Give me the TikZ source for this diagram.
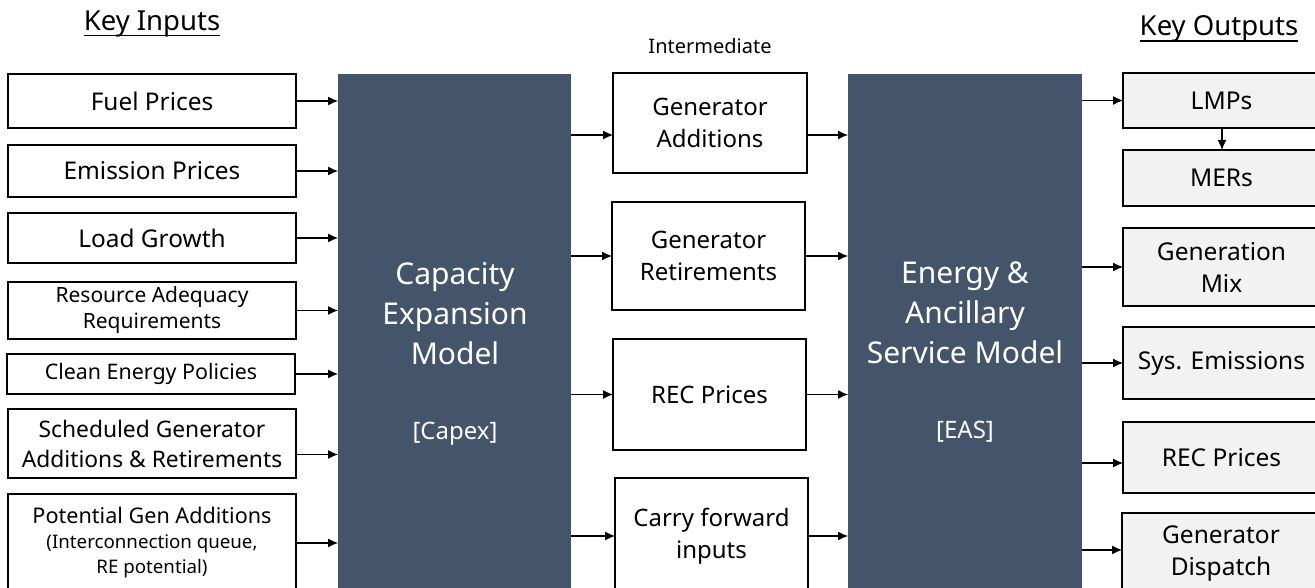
\documentclass[tikz,border=0pt]{standalone}
\usepackage{fontspec}
\setmainfont{Noto Sans}
\usetikzlibrary{arrows.meta}
\definecolor{slate}{HTML}{44546A}
\definecolor{outfill}{HTML}{F2F2F2}
\newcommand{\fsz}[2]{\fontsize{#1}{#2}\selectfont}
\tikzset{
  box/.style={draw=black, line width=1.4pt, inner sep=0pt, outer sep=0pt,
    anchor=north west, align=center},
  inbox/.style={box, fill=white},
  midbox/.style={box, fill=white, font=\fsz{24}{32}},
  outbox/.style={box, fill=outfill, font=\fsz{24.5}{32}},
  model/.style={fill=slate, draw=none, inner sep=0pt, outer sep=0pt, anchor=north west},
  modeltext/.style={text=white, align=center, inner sep=0pt, anchor=north, font=\fsz{30}{40}},
  heading/.style={inner sep=0pt, anchor=base, font=\fsz{27.5}{30}},
  uline/.style={line width=1.3pt},
  arr/.style={-{Latex[length=10pt,width=9pt]}, line width=1.1pt, draw=black},
}
\begin{document}
\begin{tikzpicture}[x=1pt,y=-1pt]
\useasboundingbox (0,0) rectangle (1315,588);

% headings
\node[heading] (kin) at (152,31) {Key Inputs};
\node[heading] (kout) at (1219,36) {Key Outputs};
\draw[uline] ([yshift=-4.5pt]kin.base west) -- ([yshift=-4.5pt]kin.base east);
\draw[uline] ([yshift=-5pt]kout.base west) -- ([yshift=-5pt]kout.base east);
\node[inner sep=0pt, font=\fsz{20}{22}] (inter) at (710,46) {Intermediate};

% model blocks
\node[model, minimum width=233, minimum height=560] (capex) at (338,74) {};
\node[model, minimum width=234, minimum height=560] (eas) at (848,74) {};
\node[modeltext] (capexlab) at (455,262)
  {Capacity\\Expansion\\Model\\[35pt]{\fsz{24}{26}[Capex]}};
\node[modeltext] (easlab) at (965,262)
  {Energy \&\\Ancillary\\Service Model\\[35pt]{\fsz{24}{26}[EAS]}};

% key inputs
\node[inbox, minimum width=288, minimum height=54, font=\fsz{24.4}{30}] (fuel) at (8,74) {Fuel Prices};
\node[inbox, minimum width=288, minimum height=52, font=\fsz{24.4}{30}] (emis) at (8,145) {Emission Prices};
\node[inbox, minimum width=288, minimum height=50, font=\fsz{24.4}{30}] (load) at (8,213) {Load Growth};
\node[inbox, minimum width=288, minimum height=57, font=\fsz{21}{26}] (resad) at (8,282) {Resource Adequacy\\Requirements};
\node[inbox, minimum width=288, minimum height=40, font=\fsz{21.4}{26}] (clean) at (7,354) {Clean Energy Policies};
\node[inbox, minimum width=288, minimum height=69, font=\fsz{22.8}{30}] (sched) at (8,409) {Scheduled Generator\\Additions \& Retirements};
\node[inbox, minimum width=288, minimum height=98, font=\fsz{21.6}{25}] (potgen) at (8,494)
  {Potential Gen Additions\\{\fsz{18.7}{25}(Interconnection queue,}\\{\fsz{18.7}{25}RE potential)}};

% intermediate results
\node[midbox, minimum width=194, minimum height=100] (genadd) at (613,73) {Generator\\Additions};
\node[midbox, minimum width=193, minimum height=108] (genret) at (612,202) {Generator\\Retirements};
\node[midbox, minimum width=193, minimum height=111] (recmid) at (613,339) {REC Prices};
\node[midbox, minimum width=193, minimum height=116] (carry) at (615,478) {Carry forward\\inputs};

% key outputs
\node[outbox, minimum width=197, minimum height=55] (lmp) at (1123,73) {LMPs};
\node[outbox, minimum width=197, minimum height=56] (mer) at (1123,150) {MERs};
\node[outbox, minimum width=197, minimum height=78] (genmix) at (1123,228) {Generation\\Mix};
\node[outbox, minimum width=197, minimum height=72] (sysem) at (1123,327) {Sys. Emissions};
\node[outbox, minimum width=197, minimum height=71] (recout) at (1123,422) {REC Prices};
\node[outbox, minimum width=198, minimum height=82] (gendisp) at (1122,513) {Generator\\Dispatch};

% shifted connection points
\coordinate (schedout) at ([yshift=-11pt]sched.east);
\coordinate (gaport) at ([yshift=-12pt]genadd.west);
\coordinate (gaportout) at ([yshift=-12pt]genadd.east);
\coordinate (recport) at ([yshift=-5.5pt]recout.west);
\coordinate (dispport) at ([yshift=4pt]gendisp.west);

% inputs into capacity expansion
\foreach \n in {fuel,emis,load,resad,clean,potgen}
  \draw[arr] (\n.east) -- (\n.east -| capex.west);
\draw[arr] (schedout) -- (schedout -| capex.west);

% capacity expansion -> intermediate -> energy & ancillary
\draw[arr] (gaport -| capex.east) -- (gaport);
\draw[arr] (gaportout) -- (gaportout -| eas.west);
\foreach \n in {genret,recmid,carry}{
  \draw[arr] (\n.west -| capex.east) -- (\n.west);
  \draw[arr] (\n.east) -- (\n.east -| eas.west);
}

% energy & ancillary -> outputs
\foreach \n in {lmp,genmix,sysem}
  \draw[arr] (\n.west -| eas.east) -- (\n.west);
\draw[arr] (recport -| eas.east) -- (recport);
\draw[arr] (dispport -| eas.east) -- (dispport);
\draw[arr] (lmp.south -| 1222,0) -- (mer.north -| 1222,0);
\end{tikzpicture}
\end{document}
